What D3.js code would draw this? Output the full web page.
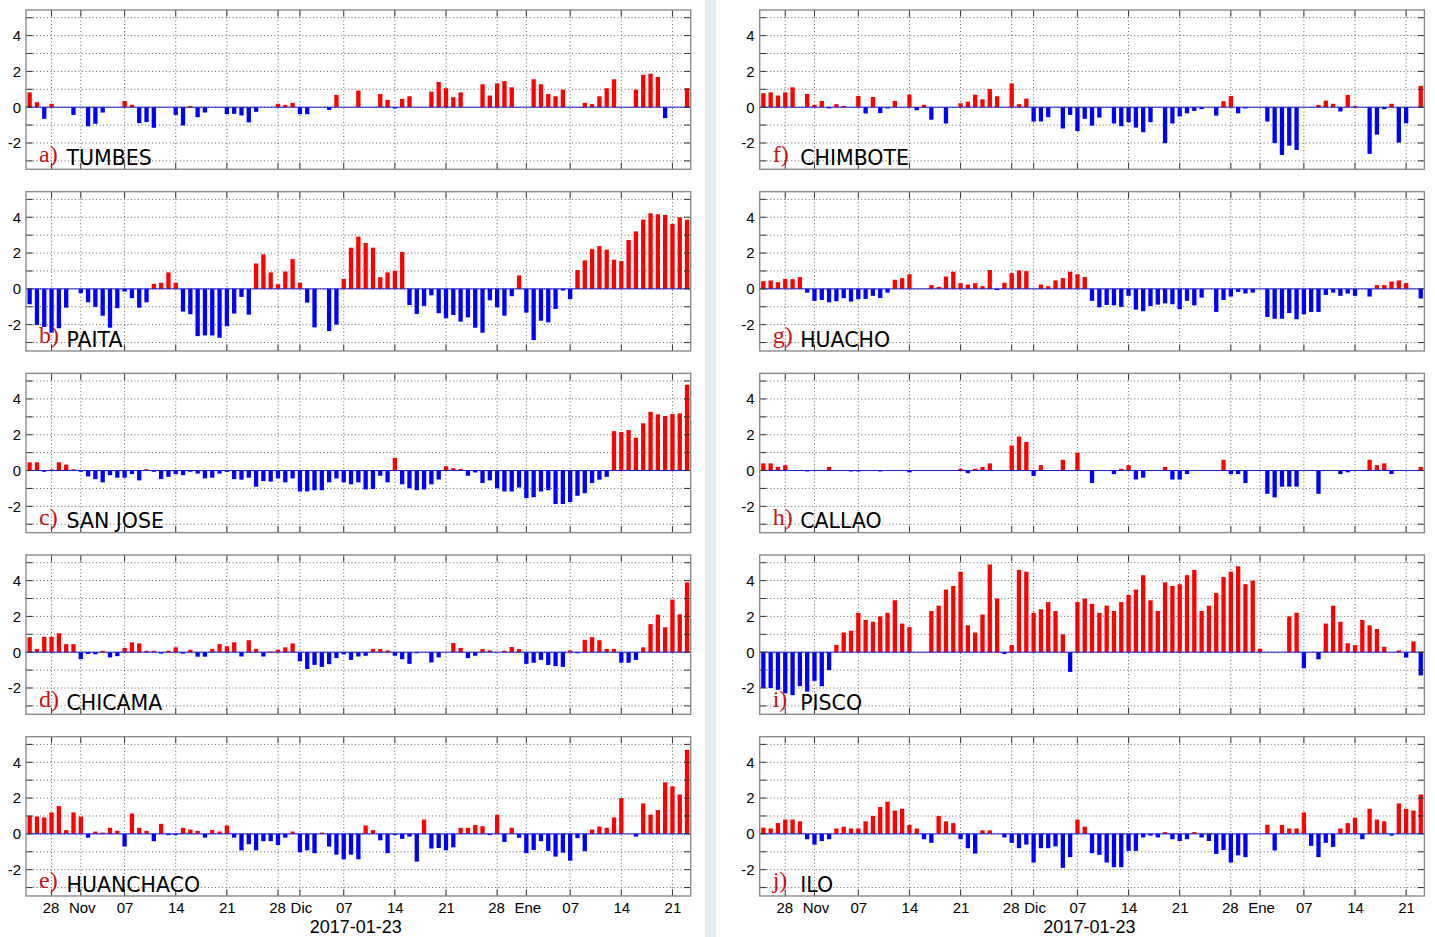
<!DOCTYPE html>
<html><head><meta charset="utf-8">
<script src="https://cdn.jsdelivr.net/npm/d3@7"></script>
<style>body{margin:0;background:#fff;} svg{display:block;}</style>
</head><body>
<svg id="c" width="1435" height="937"></svg>
<script>
// ---------------- DATA ----------------
const firstDay = "2016-10-25"; // one value per day, 91 days (to 2017-01-23)
const stations = ["TUMBES","PAITA","SAN JOSE","CHICAMA","HUANCHACO","CHIMBOTE","HUACHO","CALLAO","PISCO","ILO"];
const letters  = ["a)","b)","c)","d)","e)","f)","g)","h)","i)","j)"];

const tumbes = [0.83,0.28,-0.65,0.19,0,0,-0.43,0,-1.07,-0.93,-0.3,0,0,0.35,0.13,-0.89,-0.83,-1.15,0,0,-0.43,-1.02,0.07,-0.56,-0.3,0,0,-0.39,-0.37,-0.46,-0.85,-0.26,0,0,0.19,0.13,0.24,-0.39,-0.39,0,0,-0.15,0.69,0,0,0.93,0,0,0.74,0.41,-0.07,0.46,0.61,0,0,0.87,1.41,1.06,0.56,0.83,0,0,1.28,0.65,1.33,1.46,1.11,0,0,1.56,1.28,0.74,0.61,0.98,0,0,0.24,0.17,0.61,1.06,1.56,0,0,0.98,1.81,1.87,1.69,-0.61,0,0,1.06];
const paita = [-0.86,-2.02,-2.13,-2.45,-2.2,-1.05,0,-0.24,-0.75,-1.01,-1.5,-2.17,-1.08,-0.15,-0.52,-1.05,-0.75,0.28,0.34,0.92,0.34,-1.27,-1.42,-2.64,-2.6,-2.6,-2.73,-2.09,-1.38,-0.45,-1.44,1.42,1.93,0.92,0.26,0.97,1.66,0.34,-0.77,-2.15,0,-2.36,-2.0,0.56,2.3,2.92,2.56,2.3,0.65,0.92,1.01,2.06,-0.9,-1.4,-0.95,-0.36,-1.36,-1.64,-1.46,-1.83,-1.59,-2.17,-2.45,-0.64,-1.03,-1.5,-0.41,0.75,-1.33,-2.86,-1.78,-1.87,-1.12,-0.09,-0.58,1.05,1.59,2.22,2.39,2.19,1.63,1.55,2.73,3.21,3.87,4.22,4.17,4.13,3.63,4.0,3.87];
const sanJose = [0.46,0.46,-0.07,0.06,0.46,0.33,0.07,-0.07,-0.33,-0.48,-0.66,-0.26,-0.4,-0.4,-0.2,-0.55,0.07,-0.07,-0.48,-0.35,-0.2,-0.26,-0.07,-0.17,-0.44,-0.4,-0.17,-0.07,-0.48,-0.51,-0.4,-0.9,-0.59,-0.62,-0.44,-0.66,-0.44,-1.17,-1.17,-1.1,-1.1,-0.66,-0.44,-0.66,-0.77,-0.66,-1.06,-1.03,-0.29,-0.66,0.7,-0.77,-0.99,-1.1,-1.06,-0.77,-0.5,0.24,0.13,0.09,-0.29,-0.11,-0.7,-0.55,-0.99,-1.17,-1.17,-0.95,-1.54,-1.49,-1.17,-1.1,-1.87,-1.87,-1.76,-1.41,-1.27,-0.7,-0.51,-0.35,2.2,2.15,2.26,1.83,2.64,3.28,3.14,3.05,3.16,3.19,4.79];
const chicama = [0.84,0.18,0.86,0.86,1.06,0.45,0.45,-0.39,-0.1,-0.12,0.08,-0.29,-0.22,0.24,0.55,0.49,0.08,0.08,-0.08,0.08,0.27,-0.08,0.14,-0.25,-0.25,0.18,0.45,0.33,0.55,-0.24,0.67,0.18,-0.24,0.04,0.14,0.27,0.49,-0.51,-0.94,-0.71,-0.82,-0.67,-0.33,-0.12,-0.43,-0.24,-0.2,0.18,0.18,0.1,-0.2,-0.39,-0.65,-0.06,0,-0.57,-0.29,0,0.51,0.24,-0.33,-0.2,0.18,0.1,0,0.08,0.29,0.18,-0.65,-0.59,-0.43,-0.71,-0.78,-0.82,0.1,-0.06,0.69,0.84,0.67,0.18,0.18,-0.59,-0.59,-0.43,0.27,1.57,2.1,1.39,2.94,2.12,3.9];
const huanchaco = [1.01,0.97,0.92,1.2,1.55,0.21,1.2,0.97,-0.21,0.13,0.07,0.34,0.17,-0.71,1.14,0.34,0.17,-0.41,0.56,-0.07,-0.07,0.34,0.24,0.17,-0.21,0.21,0.13,0.47,-0.21,-0.92,-0.58,-0.92,-0.41,-0.41,-0.62,-0.21,0.13,-1.03,-0.92,-1.08,0.07,-0.71,-1.16,-1.42,-1.16,-1.42,0.47,0.21,-0.36,-1.08,-0.07,-0.28,-0.15,-1.55,0.8,-0.82,-0.79,-0.92,-0.75,0.34,0.34,0.5,0.43,-0.07,1.07,-0.45,0.34,-0.22,-1.08,-0.9,-0.41,-0.95,-1.27,-1.05,-1.5,-0.24,-0.97,0.24,0.41,0.34,0.92,2.0,0,-0.15,1.7,1.07,1.33,2.88,2.65,2.2,4.69];
const chimbote = [0.78,0.83,0.65,0.83,1.11,0,0.74,0.13,0.35,-0.07,0.17,0.07,0,0.63,-0.35,0.57,-0.33,-0.07,0.35,0,0.7,-0.17,0.13,-0.7,0,-0.91,0,0.22,0.31,0.7,0.44,1.02,0.61,0,1.33,0.17,0.48,-0.8,-0.8,-0.56,0,-1.19,-0.43,-1.34,-0.65,-1.03,-0.58,0,-0.91,-1.06,-0.84,-1.14,-1.4,-0.84,0,-2.01,-0.91,-0.52,-0.34,-0.21,-0.11,0,-0.47,0.34,0.62,-0.34,-0.07,0,0,-0.8,-2.01,-2.67,-2.15,-2.39,0,0,0.13,0.37,0.19,-0.24,0.69,0.07,0,-2.61,-1.53,-0.11,0.19,-1.98,-0.9,0,1.19];
const huacho = [0.43,0.47,0.37,0.56,0.54,0.66,-0.21,-0.67,-0.62,-0.75,-0.69,-0.52,-0.71,-0.58,-0.56,-0.39,-0.51,-0.21,0.51,0.6,0.82,0,0,0.21,0.11,0.69,0.96,0.32,0.24,0.32,0.15,1.05,-0.07,0.34,0.88,1.03,0.99,0,0.24,0.15,0.47,0.6,0.96,0.82,0.66,-0.67,-1.03,-0.9,-0.92,-1.01,-0.39,-1.16,-1.25,-0.96,-0.88,-0.81,-0.86,-1.14,-0.67,-0.92,-0.49,0,-1.29,-0.62,-0.43,-0.17,-0.26,-0.21,0,-1.57,-1.67,-1.67,-1.35,-1.7,-1.42,-1.29,-1.29,-0.34,-0.21,-0.39,-0.26,-0.39,0,-0.43,0.21,0.21,0.41,0.47,0.32,0,-0.54];
const callao = [0.4,0.4,0.2,0.3,0,0,-0.05,0,0,0.2,0,0,-0.05,-0.05,0,0,-0.05,0,0,0,-0.1,0,0,0,0,0,0,0.1,-0.15,0.1,0.2,0.4,0,0,1.4,1.9,1.6,-0.3,0.3,0,0,0.6,0,1.0,0,-0.7,0,0,-0.2,0.1,0.3,-0.5,-0.4,0,0,0.2,-0.5,-0.5,-0.2,0,0,0,0,0.6,-0.2,-0.2,-0.7,0,0,-1.3,-1.5,-0.9,-0.9,-0.9,0,0,-1.3,0,0,-0.2,-0.1,0,0,0.6,0.3,0.4,-0.2,0,0,0,0.2];
const pisco = [-2.0,-2.0,-2.1,-2.3,-2.4,-1.9,-2.2,-1.6,-1.9,-1.0,0.4,1.1,1.2,2.2,1.8,1.7,2.0,2.2,2.9,1.6,1.4,0,0,2.3,2.6,3.5,3.7,4.5,1.5,1.1,2.1,4.9,3.0,-0.1,0.4,4.6,4.5,2.2,2.4,2.8,2.3,1.0,-1.1,2.8,3.0,2.7,2.2,2.6,2.3,2.8,3.2,3.5,4.3,2.9,2.3,3.9,3.7,3.8,4.3,4.6,2.3,2.6,3.3,4.2,4.5,4.8,3.8,4.0,0.2,0,0,0,2.0,2.2,-0.9,0,-0.4,1.6,2.6,1.7,0.5,0.4,1.8,1.5,1.3,0.3,0,0.1,-0.3,0.6,-1.3];
const ilo = [0.35,0.3,0.6,0.8,0.8,0.7,-0.3,-0.6,-0.4,-0.3,0.3,0.4,0.3,0.3,0.7,1.0,1.5,1.8,1.3,1.4,0.5,0.3,-0.3,-0.5,1.0,0.7,0.6,-0.3,-0.8,-1.1,0.2,0.2,0,-0.2,-0.5,-0.8,-0.6,-1.6,-0.8,-0.8,-0.7,-1.9,-1.3,0.8,0.4,-1.08,-1.17,-1.6,-1.86,-1.86,-0.95,-0.95,-0.2,-0.1,-0.2,0.1,-0.3,-0.4,-0.3,0.1,-0.2,-0.4,-1.12,-0.9,-1.6,-1.2,-1.3,0,0,0.5,-0.93,0.5,0.3,0.3,1.2,-0.67,-1.3,-0.5,-0.73,0.3,0.6,0.9,-0.3,1.4,0.8,0.7,-0.1,1.7,1.4,1.3,2.2];

const tickDates  = ["2016-10-28","2016-11-01","2016-11-07","2016-11-14","2016-11-21","2016-11-28","2016-12-01","2016-12-07","2016-12-14","2016-12-21","2016-12-28","2017-01-01","2017-01-07","2017-01-14","2017-01-21"];
const tickLabels = ["28","Nov","07","14","21","28","Dic","07","14","21","28","Ene","07","14","21"];
const yGrid   = [-3,-2,-1,0,1,2,3,4,5];
const yLabels = [-2,0,2,4];
const dateText = "2017-01-23";

const series = [tumbes,paita,sanJose,chicama,huanchaco,chimbote,huacho,callao,pisco,ilo];

// ---------------- DRAW ----------------
const svg = d3.select("#c");
const day = 86400000;
const t0 = Date.parse(firstDay + "T00:00:00Z");
const domain = [new Date(t0 - day/2), new Date(t0 + 90*day + day/2)];
const colX = [26, 759.7], plotW = 664.7;
const rowTop = r => 10 + r*181.67, plotH = 159.3;
const toDate = d => new Date(d + "T00:00:00Z");
const isMonth = s => /[A-Za-z]/.test(s);

// separator band
svg.append("rect").attr("x",705).attr("y",0).attr("width",11).attr("height",937).attr("fill","#e2ecf3");

series.forEach((vals, k) => {
  const col = Math.floor(k/5), row = k%5;
  const x0 = colX[col], y0 = rowTop(row);
  const xs = d3.scaleUtc().domain(domain).range([x0, x0+plotW]);
  const ys = d3.scaleLinear().domain([-3.47, 5.43]).range([y0+plotH, y0]);
  const g = svg.append("g");
  const bw = 4.3;

  // grid
  g.selectAll(".hg").data(yGrid).join("line")
    .attr("x1",x0).attr("x2",x0+plotW).attr("y1",d=>ys(d)).attr("y2",d=>ys(d))
    .attr("stroke","#666").attr("stroke-width",1).attr("stroke-dasharray","1,2.5");
  g.selectAll(".vg").data(tickDates).join("line")
    .attr("x1",d=>xs(toDate(d))).attr("x2",d=>xs(toDate(d)))
    .attr("y1",y0).attr("y2",y0+plotH)
    .attr("stroke","#666").attr("stroke-width",1).attr("stroke-dasharray","1,2.5");

  // bars
  const data = vals.map((v,i)=>({d:new Date(t0+i*day), v})).filter(o=>o.v!==0);
  g.selectAll(".bar").data(data).join("rect")
    .attr("x",o=>xs(o.d)-bw/2).attr("width",bw)
    .attr("y",o=>ys(Math.max(0,o.v))).attr("height",o=>Math.abs(ys(o.v)-ys(0)))
    .attr("fill",o=>o.v>0?"#ff0000":"#0000ff");

  // baseline
  g.append("line").attr("x1",x0).attr("x2",x0+plotW).attr("y1",ys(0)).attr("y2",ys(0))
    .attr("stroke","#1a1acc").attr("stroke-width",1);

  // ticks on all sides
  const tl = 6.6;
  yGrid.forEach(v=>{
    g.append("line").attr("x1",x0).attr("x2",x0+tl).attr("y1",ys(v)).attr("y2",ys(v)).attr("stroke","#333");
    g.append("line").attr("x1",x0+plotW-tl).attr("x2",x0+plotW).attr("y1",ys(v)).attr("y2",ys(v)).attr("stroke","#333");
  });
  tickDates.forEach(d=>{
    const xx = xs(toDate(d));
    g.append("line").attr("x1",xx).attr("x2",xx).attr("y1",y0).attr("y2",y0+tl).attr("stroke","#333");
    g.append("line").attr("x1",xx).attr("x2",xx).attr("y1",y0+plotH-tl).attr("y2",y0+plotH).attr("stroke","#333");
  });

  // frame
  g.append("rect").attr("x",x0).attr("y",y0).attr("width",plotW).attr("height",plotH)
    .attr("fill","none").attr("stroke","#8a8a8a").attr("stroke-width",1.4);

  // y labels
  g.selectAll(".yl").data(yLabels).join("text")
    .attr("x",x0-5).attr("y",d=>ys(d)).attr("dy","0.36em").attr("text-anchor","end")
    .attr("font-family","Liberation Sans, Arial, sans-serif").attr("font-size",15).attr("fill","#000")
    .text(d=>d);

  // panel label
  g.append("text").attr("x",x0+13).attr("y",y0+plotH-7.5)
    .attr("font-family","Liberation Serif, Times New Roman, serif").attr("font-size",24).attr("fill","#cc1111")
    .text(letters[k]);
  g.append("text").attr("x",x0+40.5).attr("y",y0+plotH-4.3)
    .attr("font-family","DejaVu Sans, Verdana, sans-serif").attr("font-size",20.5).attr("fill","#000")
    .text(stations[k]);

  // x labels on bottom row
  if (row === 4) {
    g.selectAll(".xl").data(tickDates).join("text")
      .attr("x",(d,i)=>xs(toDate(d)) + (isMonth(tickLabels[i]) ? 1.5 : (isMonth(tickLabels[i+1]||"") ? -0.5 : 0.5)))
      .attr("y",y0+plotH+17.5)
      .attr("text-anchor","middle")
      .attr("font-family","Liberation Sans, Arial, sans-serif").attr("font-size",15).attr("fill","#000")
      .text((d,i)=>tickLabels[i]);
    g.append("text").attr("x",x0+plotW*0.496).attr("y",y0+plotH+37)
      .attr("text-anchor","middle")
      .attr("font-family","Liberation Sans, Arial, sans-serif").attr("font-size",18).attr("fill","#000")
      .text(dateText);
  }
});
</script>
</body></html>
